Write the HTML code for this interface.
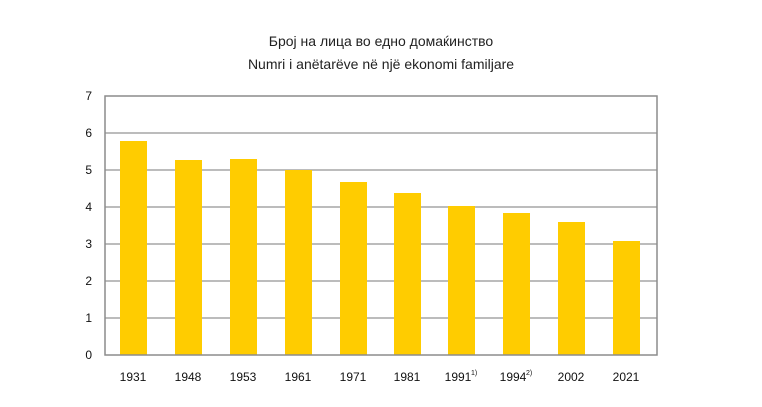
<!DOCTYPE html>
<html><head><meta charset="utf-8"><style>body{margin:0;background:#fff}</style></head><body>
<svg width="762" height="402" xmlns="http://www.w3.org/2000/svg" font-family="Liberation Sans, sans-serif">
<text x="381" y="46" text-anchor="middle" font-size="14" fill="#222">Број на лица во едно домаќинство</text>
<text x="381" y="69" text-anchor="middle" font-size="14" fill="#222">Numri i anëtarëve në një ekonomi familjare</text>
<g stroke="#a6a6a6" stroke-width="1.5">
<line x1="105" y1="133" x2="657" y2="133"/><line x1="105" y1="170" x2="657" y2="170"/>
<line x1="105" y1="207" x2="657" y2="207"/><line x1="105" y1="244" x2="657" y2="244"/>
<line x1="105" y1="281" x2="657" y2="281"/><line x1="105" y1="318" x2="657" y2="318"/>
</g>
<g fill="#ffcc00">
<rect x="120" y="141" width="27" height="214"/>
<rect x="175" y="160" width="27" height="195"/>
<rect x="230" y="159" width="27" height="196"/>
<rect x="285" y="170" width="27" height="185"/>
<rect x="340" y="182" width="27" height="173"/>
<rect x="394" y="193" width="27" height="162"/>
<rect x="448" y="206" width="27" height="149"/>
<rect x="503" y="213" width="27" height="142"/>
<rect x="558" y="222" width="27" height="133"/>
<rect x="613" y="241" width="27" height="114"/>
</g>
<rect x="105" y="96" width="552" height="259" fill="none" stroke="#8c8c8c" stroke-width="1.5"/>
<g font-size="12" fill="#111" text-anchor="end">
<text x="92" y="100">7</text><text x="92" y="137">6</text><text x="92" y="174">5</text>
<text x="92" y="211">4</text><text x="92" y="248">3</text><text x="92" y="285">2</text>
<text x="92" y="322">1</text><text x="92" y="359">0</text>
</g>
<g font-size="12" fill="#111" text-anchor="middle">
<text x="133" y="381">1931</text><text x="188" y="381">1948</text><text x="243" y="381">1953</text>
<text x="298" y="381">1961</text><text x="353" y="381">1971</text><text x="407" y="381">1981</text>
<text x="458" y="381">1991</text><text x="513" y="381">1994</text>
<text x="571" y="381">2002</text><text x="626" y="381">2021</text>
</g>
<g font-size="7" fill="#111"><text x="471" y="375">1)</text><text x="526" y="375">2)</text></g>
</svg>
</body></html>
